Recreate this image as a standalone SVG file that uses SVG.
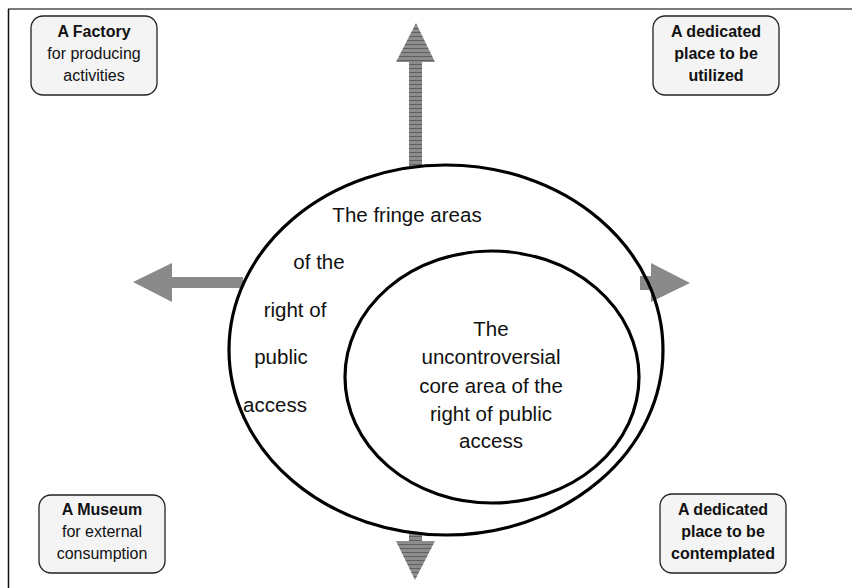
<svg xmlns="http://www.w3.org/2000/svg" width="852" height="588" viewBox="0 0 852 588">
  <style>
    .box { fill: #f4f4f4; stroke: #222; stroke-width: 1.3; }
    .bt { font-family: "Liberation Sans", Arial, sans-serif; font-size: 16px; fill: #111; text-anchor: middle; }
    .b { font-weight: bold; }
    .et { font-family: "Liberation Sans", Arial, sans-serif; font-size: 20.5px; fill: #111; text-anchor: middle; }
    .ell { fill: none; stroke: #000; stroke-width: 3.2; }
    .arrowH { fill: #8a8a8a; }
    .arrowV { fill: url(#hatch); }
  </style>
  <defs>
    <pattern id="hatch" patternUnits="userSpaceOnUse" width="8" height="4">
      <rect width="8" height="4" fill="#8c8c8c"/>
      <rect y="0" width="8" height="1" fill="#606060"/>
    </pattern>
  </defs>
  <rect width="852" height="588" fill="#fff"/>
  <g id="frame">
    <line x1="8" y1="9" x2="852" y2="9" stroke="#7a7a7a" stroke-width="2"/>
    <line x1="8.5" y1="9" x2="8.5" y2="588" stroke="#111" stroke-width="1.5"/>
  </g>
  <g id="connectors">
    <polygon class="arrowV" points="409,167 409,62 396,62 416,23 435,62 422,62 422,167"/>
    <polygon class="arrowV" points="409,532 409,541 396,541 415,580 435,541 422,541 422,532"/>
    <polygon class="arrowH" points="243,277 172,277 172,263 133,282 172,302 172,288 243,288"/>
    <polygon class="arrowH" points="640,276 651,276 651,263 690,283 651,302 651,290 640,290"/>
  </g>
  <g id="fringe">
    <ellipse class="ell" cx="446" cy="350" rx="217" ry="185"/>
    <text class="et" x="407" y="222">The fringe areas</text>
    <text class="et" x="319" y="269">of the</text>
    <text class="et" x="295" y="317">right of</text>
    <text class="et" x="281" y="364">public</text>
    <text class="et" x="275" y="412">access</text>
  </g>
  <g id="core">
    <ellipse class="ell" cx="492" cy="377" rx="147" ry="126"/>
    <text class="et" x="491" y="336">The</text>
    <text class="et" x="491" y="364">uncontroversial</text>
    <text class="et" x="491" y="393">core area of the</text>
    <text class="et" x="491" y="421">right of public</text>
    <text class="et" x="491" y="448">access</text>
  </g>
  <g id="factory">
    <rect class="box" x="31" y="16" width="126" height="79" rx="12"/>
    <text class="bt b" x="94" y="37">A Factory</text>
    <text class="bt" x="94" y="59">for producing</text>
    <text class="bt" x="94" y="81">activities</text>
  </g>
  <g id="utilized">
    <rect class="box" x="653" y="16" width="126" height="79" rx="12"/>
    <text class="bt b" x="716" y="37">A dedicated</text>
    <text class="bt b" x="716" y="59">place to be</text>
    <text class="bt b" x="716" y="81">utilized</text>
  </g>
  <g id="museum">
    <rect class="box" x="39" y="495" width="126" height="78" rx="12"/>
    <text class="bt b" x="102" y="515">A Museum</text>
    <text class="bt" x="102" y="537">for external</text>
    <text class="bt" x="102" y="559">consumption</text>
  </g>
  <g id="contemplated">
    <rect class="box" x="660" y="494" width="126" height="79" rx="12"/>
    <text class="bt b" x="723" y="515">A dedicated</text>
    <text class="bt b" x="723" y="537">place to be</text>
    <text class="bt b" x="723" y="559">contemplated</text>
  </g>
</svg>
